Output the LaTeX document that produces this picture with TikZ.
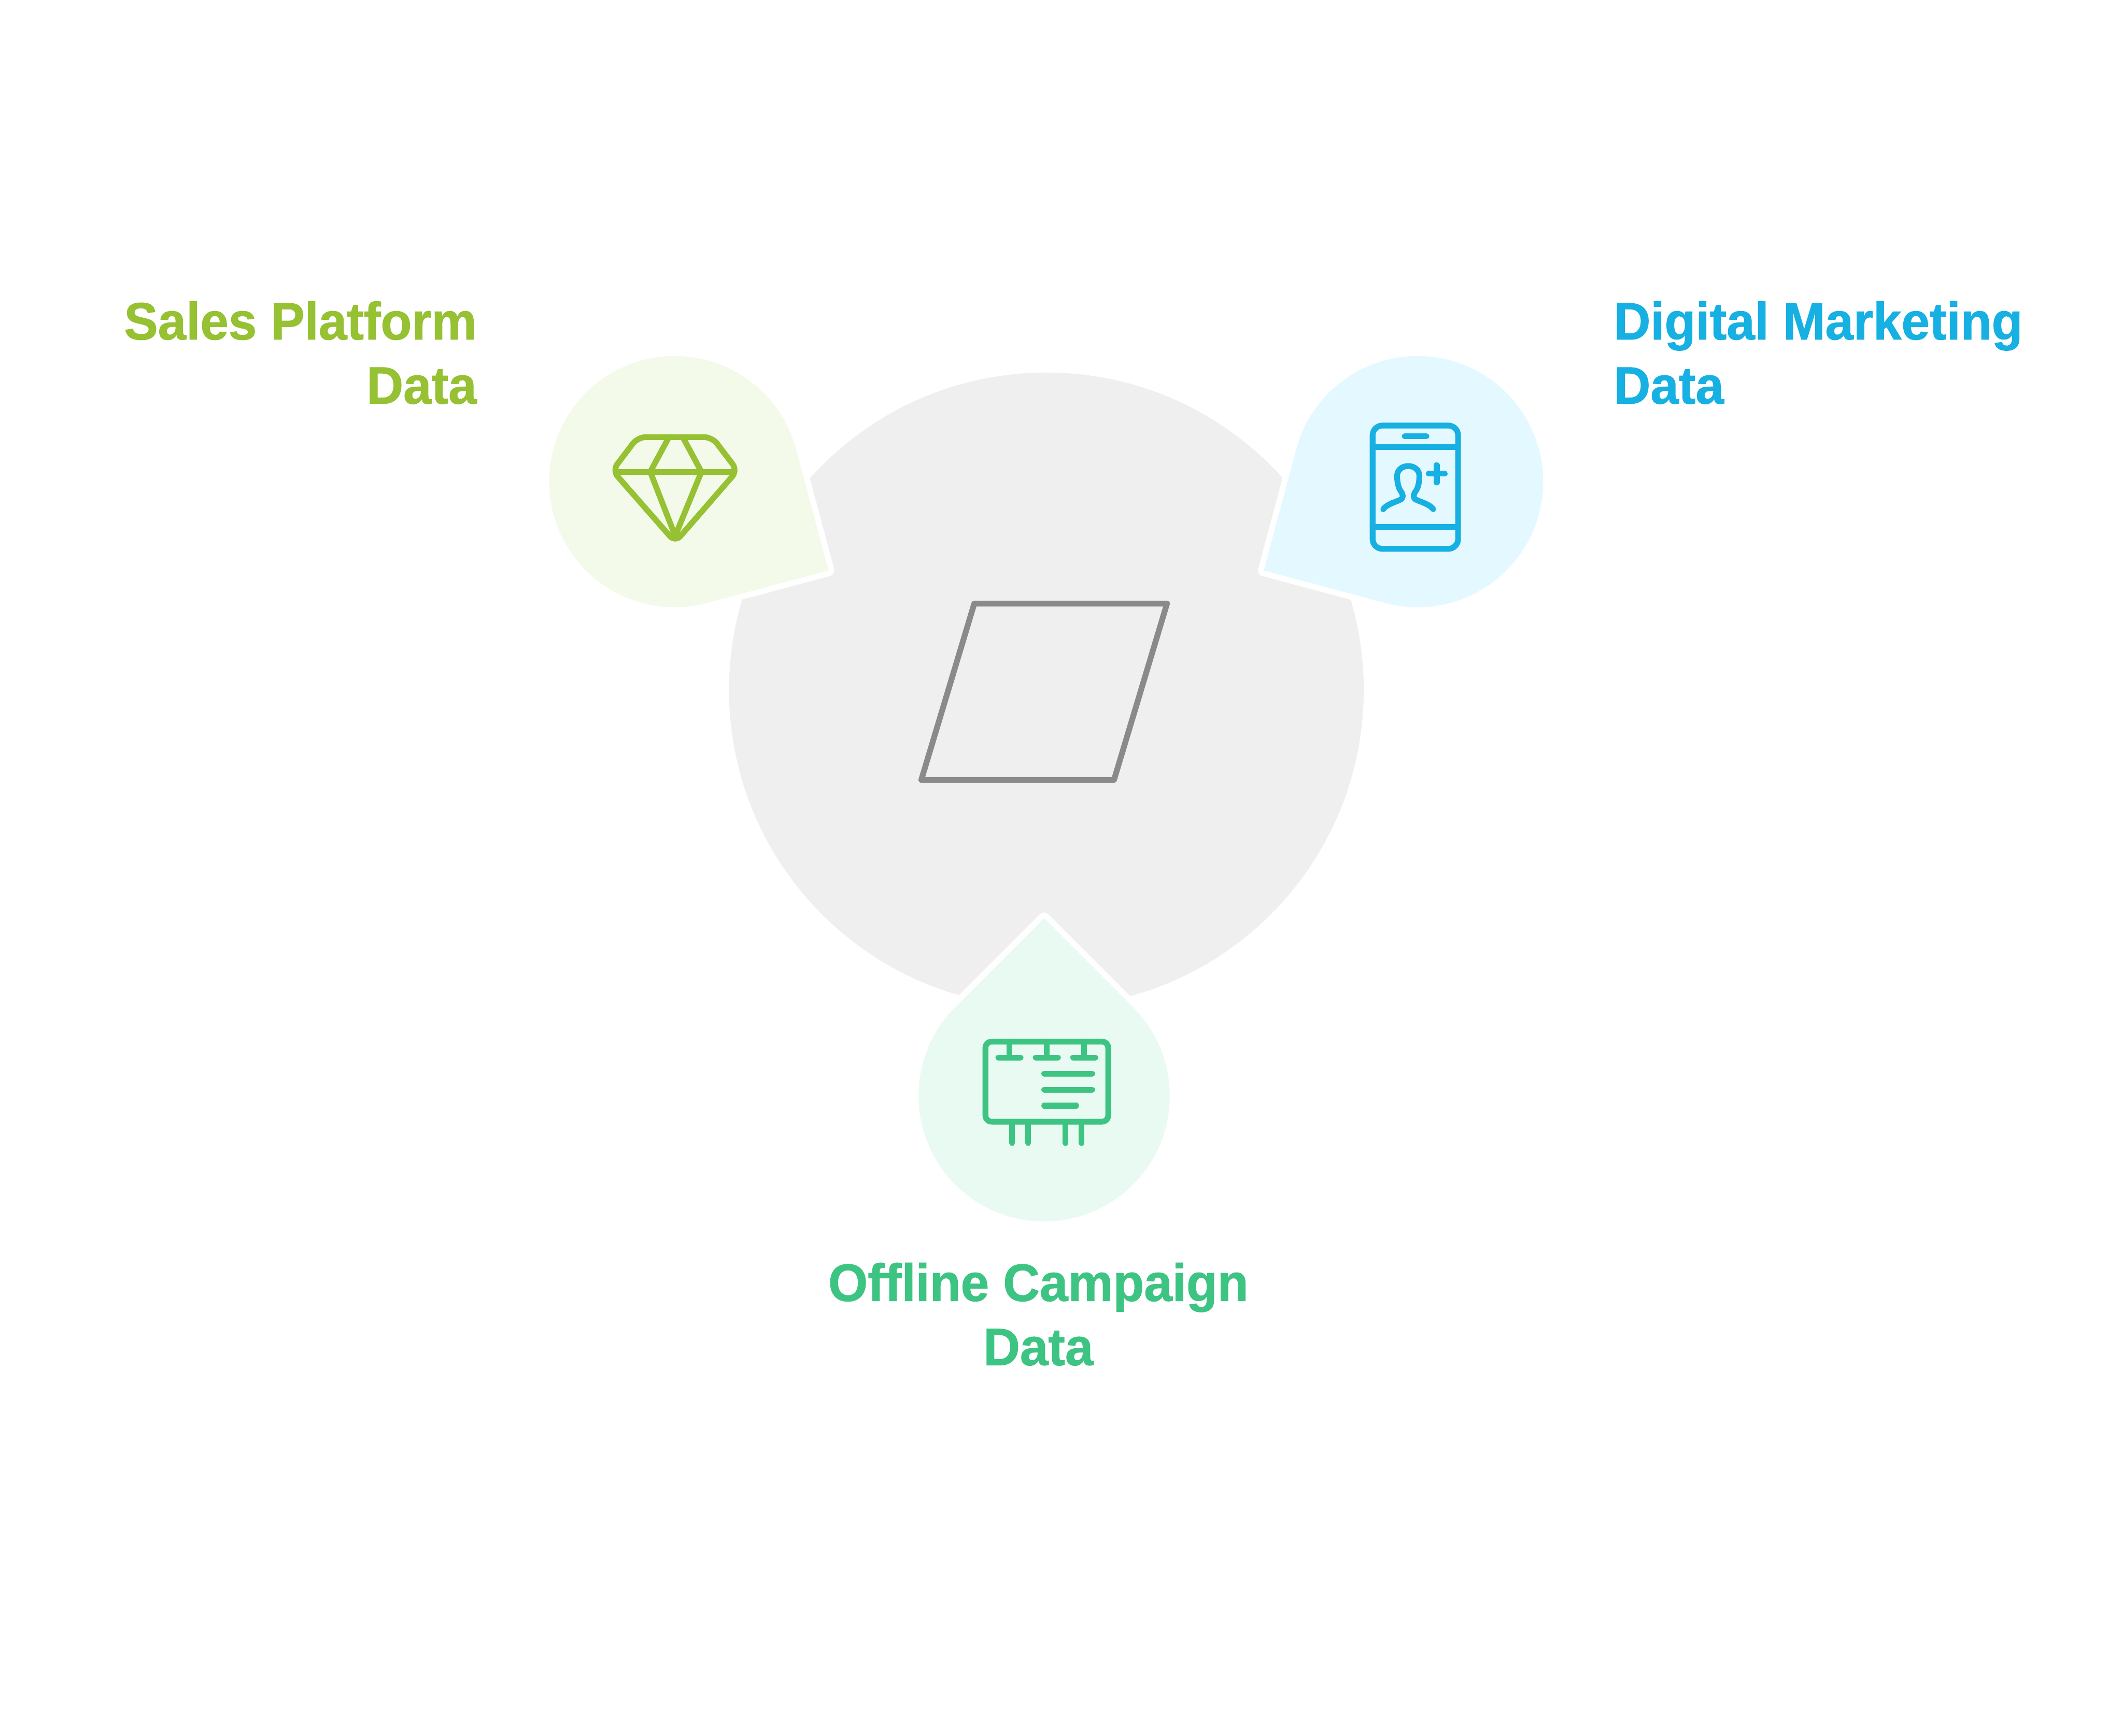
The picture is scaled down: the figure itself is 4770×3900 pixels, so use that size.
\documentclass[tikz,border=0pt]{standalone}
\usepackage{fontspec}
\setmainfont[FakeStretch=0.965, BoldFeatures={FakeBold=1}]{Liberation Sans}
\usepackage{tikz}
\definecolor{discgray}{HTML}{EFEFEF}
\definecolor{framegray}{HTML}{8A8A8A}
\definecolor{salesgreen}{HTML}{95C132}
\definecolor{salestint}{HTML}{F3FAEA}
\definecolor{digitalblue}{HTML}{17B0E2}
\definecolor{digitaltint}{HTML}{E4F8FF}
\definecolor{offlinegreen}{HTML}{3DC483}
\definecolor{offlinetint}{HTML}{E9FAF2}
\tikzset{
    drop/.style={fill=#1, preaction={draw=white, line width=0.26cm, line join=round}},
    icon/.style={line width=0.13cm, line cap=round, line join=round},
    caption/.style={font=\fontsize{33.6}{41}\selectfont\bfseries, inner sep=0pt, outer sep=0pt}
}

\begin{document}
\begin{tikzpicture}[x=0.01cm, y=-0.01cm]
        \useasboundingbox[fill=white] (0, 0) rectangle (4770, 3900);

        % Draw the big disc
        \fill[discgray] (2351, 1550) circle (713);
        \draw[icon, framegray] (2189, 1356) -- (2622, 1356) -- (2503, 1752) -- (2070, 1752) -- cycle;

        % Draw the three drops
        \foreach \cx/\cy/\dirn/\tint in {1516/1082/-30/salestint, 3185/1082/210/digitaltint, 2346/2462/90/offlinetint} {
            \path[drop=\tint] ([shift={(\dirn+45:2.82cm)}]\cx, \cy) arc[start angle=\dirn+45, end angle=\dirn+315, radius=2.82cm]
                -- ([shift={(\dirn:3.988cm)}]\cx, \cy) -- cycle;
        }

        % Sales icon
        \draw[icon, salesgreen, rounded corners=0.18cm] (1433, 982) -- (1600, 982) -- (1657, 1057) -- (1517, 1218) -- (1376, 1057) -- cycle;
        \draw[icon, salesgreen] (1385, 1060) -- (1650, 1060);
        \draw[icon, salesgreen] (1503, 982) -- (1461, 1060) -- (1517, 1204) -- (1576, 1060) -- (1534, 982);

        % Digital icon
        \draw[icon, digitalblue, rounded corners=0.22cm] (3084, 956) rectangle (3276, 1233);
        \draw[icon, digitalblue] (3084, 1004) -- (3276, 1004);
        \draw[icon, digitalblue] (3084, 1184) -- (3276, 1184);
        \draw[icon, digitalblue] (3156, 980) -- (3205, 980);
        \draw[icon, digitalblue] (3210, 1064) -- (3246, 1064);
        \draw[icon, digitalblue] (3228, 1045) -- (3228, 1084);
        \draw[icon, digitalblue] (3108, 1144) .. controls (3116, 1131) and (3147, 1125) .. (3150, 1120)
            .. controls (3155, 1110) and (3147, 1105) .. (3144, 1098)
            .. controls (3140, 1088) and (3139, 1078) .. (3139, 1069)
            .. controls (3139, 1056) and (3150, 1047) .. (3164, 1047)
            .. controls (3178, 1047) and (3189, 1056) .. (3189, 1069)
            .. controls (3189, 1078) and (3188, 1088) .. (3184, 1098)
            .. controls (3181, 1105) and (3173, 1110) .. (3178, 1120)
            .. controls (3181, 1125) and (3212, 1131) .. (3220, 1144);

        % Offline icon
        \draw[icon, offlinegreen, rounded corners=0.14cm] (2214, 2340) rectangle (2490, 2520);
        \foreach \x in {2268, 2352, 2436} {
            \draw[icon, offlinegreen] (\x, 2340) -- (\x, 2376);
            \draw[icon, offlinegreen] (\x-25, 2376) -- (\x+25, 2376);
        }
        \draw[icon, offlinegreen] (2346, 2412) -- (2454, 2412);
        \draw[icon, offlinegreen] (2346, 2448) -- (2454, 2448);
        \draw[icon, offlinegreen] (2346, 2484) -- (2418, 2484);
        \foreach \x in {2274, 2310, 2394, 2430} {
            \draw[icon, offlinegreen] (\x, 2520) -- (\x, 2568);
        }

        % Label the drops
        \node[caption, salesgreen, align=right, anchor=north east] (salesname) at (1071, 677) {Sales Platform\\Data};
        \node[caption, digitalblue, align=left, anchor=north west] (digitalname) at (3626, 677) {Digital Marketing\\Data};
        \node[caption, offlinegreen, align=center, anchor=north] (offlinename) at (2333, 2837) {Offline Campaign\\Data};
    \end{tikzpicture}
\end{document}
